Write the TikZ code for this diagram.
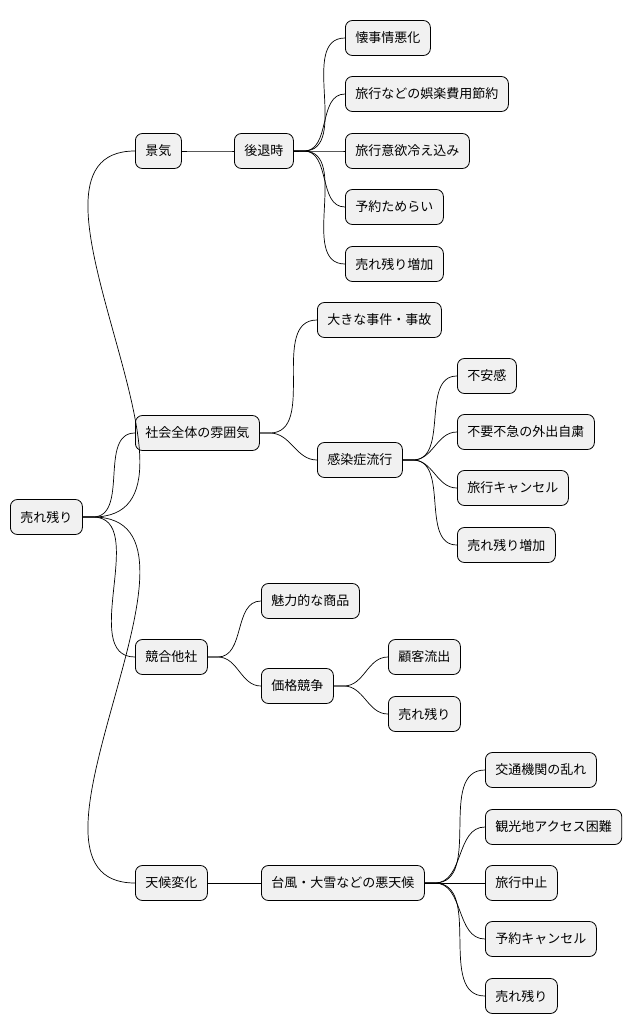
\documentclass[tikz,border=0pt]{standalone}
\usepackage{fontspec}
\setmainfont{Noto Sans CJK JP}
\begin{document}
\begin{tikzpicture}[x=1pt,y=1pt,
  box/.style={draw=black,fill={rgb,255:red,241;green,241;blue,241},rounded corners=7pt,
    minimum height=35pt,inner xsep=10pt,anchor=west,font=\fontsize{13}{15}\selectfont,line width=0.8pt},
  edge/.style={draw=black,line width=0.7pt}]
\useasboundingbox (0,0) rectangle (642,-1034);
\newcommand\nd[4]{\node[box] (#1) at (#2,-#3) {#4};}
\nd{r}{10}{517}{売れ残り}
\nd{a}{135}{151}{景気}
\nd{a1}{234}{151}{後退時}
\nd{a11}{345}{38}{懐事情悪化}
\nd{a12}{345}{94}{旅行などの娯楽費用節約}
\nd{a13}{345}{151}{旅行意欲冷え込み}
\nd{a14}{345}{207}{予約ためらい}
\nd{a15}{345}{264}{売れ残り増加}
\nd{b}{135}{433}{社会全体の雰囲気}
\nd{b1}{317}{320}{大きな事件・事故}
\nd{b2}{317}{460}{感染症流行}
\nd{b21}{457}{376}{不安感}
\nd{b22}{457}{432}{不要不急の外出自粛}
\nd{b23}{457}{488}{旅行キャンセル}
\nd{b24}{457}{545}{売れ残り増加}
\nd{c}{135}{657}{競合他社}
\nd{c1}{261}{601}{魅力的な商品}
\nd{c2}{261}{686}{価格競争}
\nd{c21}{388}{657}{顧客流出}
\nd{c22}{388}{714}{売れ残り}
\nd{d}{135}{883}{天候変化}
\nd{d1}{261}{883}{台風・大雪などの悪天候}
\nd{d11}{485}{770}{交通機関の乱れ}
\nd{d12}{485}{827}{観光地アクセス困難}
\nd{d13}{485}{883}{旅行中止}
\nd{d14}{485}{939}{予約キャンセル}
\nd{d15}{485}{996}{売れ残り}
\foreach \p/\c in {r/a,r/b,r/c,r/d,a/a1,a1/a11,a1/a12,a1/a13,a1/a14,a1/a15,b/b1,b/b2,b2/b21,b2/b22,b2/b23,b2/b24,c/c1,c/c2,c2/c21,c2/c22,d/d1,d1/d11,d1/d12,d1/d13,d1/d14,d1/d15}
  \draw[edge] (\p.east) -- ++(10,0) to[out=0,in=180] (\c.west);
\end{tikzpicture}
\end{document}
